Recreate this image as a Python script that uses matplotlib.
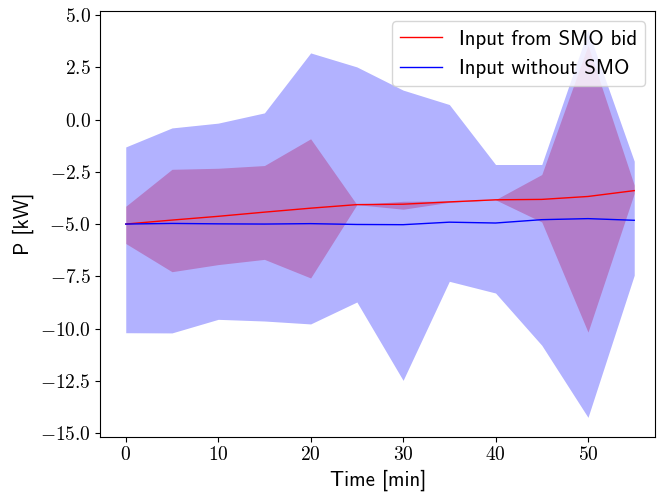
import numpy as np
import matplotlib
matplotlib.use("Agg")
import matplotlib.pyplot as plt
from matplotlib.ticker import FuncFormatter

plt.rcParams['font.family'] = 'cmss10'
plt.rcParams['mathtext.fontset'] = 'cm'
plt.rcParams['mathtext.default'] = 'rm'
plt.rcParams['axes.formatter.use_mathtext'] = True

# time steps [min]
t = [0, 5, 10, 15, 20, 25, 30, 35, 40, 45, 50, 55]

# input from SMO bid: mean and band
p_smo = [-5.0, -4.81, -4.63, -4.43, -4.24, -4.07, -4.05, -3.94, -3.84, -3.82, -3.68, -3.40]
p_smo_hi = [-4.15, -2.38, -2.33, -2.20, -0.92, -4.07, -3.91, -3.90, -3.83, -2.63, 3.55, -3.14]
p_smo_lo = [-5.93, -7.28, -6.94, -6.69, -7.58, -4.07, -4.29, -3.96, -3.84, -4.90, -10.17, -3.53]

# input without SMO: mean and band
p_no = [-5.0, -4.97, -4.99, -5.0, -4.98, -5.02, -5.03, -4.91, -4.95, -4.79, -4.74, -4.82]
p_no_hi = [-1.31, -0.40, -0.17, 0.32, 3.19, 2.52, 1.41, 0.72, -2.15, -2.15, 4.27, -1.99]
p_no_lo = [-10.20, -10.21, -9.56, -9.64, -9.78, -8.73, -12.48, -7.74, -8.30, -10.80, -14.25, -7.45]

fig = plt.figure(figsize=(6.57, 4.93), dpi=100)
ax = fig.add_axes([0.1527, 0.1142, 0.845, 0.8635])

# red band first, blue band on top -> purple overlap
ax.fill_between(t, p_smo_lo, p_smo_hi, color='r', alpha=0.3, linewidth=0)
ax.fill_between(t, p_no_lo, p_no_hi, color='b', alpha=0.3, linewidth=0)
ax.plot(t, p_smo, color='r', lw=1, label='Input from SMO bid')
ax.plot(t, p_no, color='b', lw=1, label='Input without SMO')

ax.set_xlim(-2.75, 57.3)
ax.xaxis.set_major_formatter(FuncFormatter(lambda v, pos: r'$%g$' % v))
ax.yaxis.set_major_formatter(FuncFormatter(lambda v, pos: r'$%.1f$' % v))
ax.tick_params(labelsize=14)

ax.set_xlabel('Time [min]', fontsize=15)
ax.set_ylabel('P [kW]', fontsize=15)
ax.legend(loc='upper right', fontsize=15)

fig.savefig('out.png', dpi=100)
